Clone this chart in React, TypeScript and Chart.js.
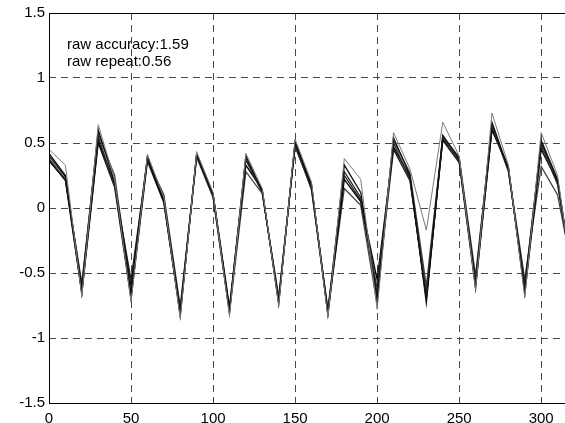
import React, { useEffect, useRef } from "react";
import { Chart, registerables } from "chart.js";

Chart.register(...registerables);

const xValues = [0, 10, 20, 30, 40, 50, 60, 70, 80, 90, 100, 110, 120, 130, 140, 150, 160, 170, 180, 190, 200, 210, 220, 230, 240, 250, 260, 270, 280, 290, 300, 310, 320];

const series1 = [0.45, 0.33, -0.68, 0.64, 0.22, -0.72, 0.41, 0.08, -0.85, 0.43, 0.12, -0.83, 0.42, 0.15, -0.75, 0.53, 0.20, -0.84, 0.38, 0.22, -0.78, 0.58, 0.30, -0.17, 0.66, 0.40, -0.63, 0.73, 0.33, -0.69, 0.58, 0.25, -0.65];
const series2 = [0.42, 0.25, -0.62, 0.60, 0.20, -0.60, 0.39, 0.06, -0.80, 0.41, 0.10, -0.78, 0.40, 0.13, -0.72, 0.50, 0.17, -0.80, 0.33, 0.12, -0.70, 0.54, 0.25, -0.73, 0.56, 0.38, -0.58, 0.66, 0.30, -0.62, 0.52, 0.22, -0.60];
const series3 = [0.38, 0.22, -0.60, 0.55, 0.17, -0.55, 0.37, 0.10, -0.76, 0.40, 0.09, -0.80, 0.37, 0.12, -0.70, 0.48, 0.15, -0.78, 0.28, 0.08, -0.62, 0.50, 0.22, -0.65, 0.54, 0.36, -0.55, 0.63, 0.28, -0.58, 0.48, 0.18, -0.58];
const series4 = [0.37, 0.21, -0.65, 0.52, 0.19, -0.68, 0.38, 0.05, -0.83, 0.42, 0.11, -0.76, 0.33, 0.14, -0.74, 0.51, 0.18, -0.82, 0.22, 0.05, -0.55, 0.47, 0.24, -0.70, 0.53, 0.37, -0.60, 0.60, 0.31, -0.66, 0.45, 0.20, -0.62];
const series5 = [0.36, 0.22, -0.58, 0.57, 0.25, -0.65, 0.40, 0.07, -0.78, 0.39, 0.08, -0.81, 0.28, 0.11, -0.68, 0.47, 0.16, -0.79, 0.15, 0.02, -0.74, 0.52, 0.27, -0.60, 0.55, 0.39, -0.52, 0.64, 0.29, -0.55, 0.32, 0.10, -0.55];
const series6 = [0.40, 0.24, -0.66, 0.50, 0.16, -0.70, 0.36, 0.04, -0.81, 0.40, 0.10, -0.79, 0.38, 0.12, -0.71, 0.49, 0.14, -0.81, 0.25, 0.06, -0.66, 0.45, 0.21, -0.68, 0.52, 0.35, -0.62, 0.61, 0.32, -0.64, 0.50, 0.21, -0.63];

const allSeries = [series1, series2, series3, series4, series5, series6];
const seriesColors = ["#7a7a7a", "#111111", "#2a2a2a", "#000000", "#444444", "#1a1a1a"];

const xTickValues = [0, 50, 100, 150, 200, 250, 300];
const yTickValues = [-1.5, -1, -0.5, 0, 0.5, 1, 1.5];
const noteLines = ["raw accuracy:1.59", "raw repeat:0.56"];

const FONT = "Liberation Sans, Arial, Helvetica, sans-serif";

export default function App() {
  const ref = useRef<HTMLCanvasElement | null>(null);

  useEffect(() => {
    if (!ref.current) return;
    const boxPlugin = {
      id: "boxAndNotes",
      afterDraw(chart: any) {
        const { ctx, chartArea } = chart;
        ctx.save();
        ctx.strokeStyle = "#000";
        ctx.lineWidth = 1;
        ctx.strokeRect(
          Math.round(chartArea.left) + 0.5,
          Math.round(chartArea.top) + 0.5,
          Math.round(chartArea.right - chartArea.left),
          Math.round(chartArea.bottom - chartArea.top)
        );
        ctx.fillStyle = "#000";
        ctx.font = "15px " + FONT;
        ctx.textAlign = "left";
        ctx.textBaseline = "alphabetic";
        ctx.fillText(noteLines[0], 67, 49);
        ctx.fillText(noteLines[1], 67, 66);
        ctx.restore();
      },
    };

    const chart = new Chart(ref.current, {
      type: "line",
      data: {
        datasets: allSeries.map((s, i) => ({
          data: s.map((v, j) => ({ x: xValues[j], y: v })),
          borderColor: seriesColors[i],
          borderWidth: i === 0 ? 1 : 1.3,
          pointRadius: 0,
          tension: 0,
          fill: false,
        })),
      },
      options: {
        animation: false,
        responsive: false,
        layout: { padding: { top: 13, right: 16, left: 0, bottom: 0 } },
        plugins: { legend: { display: false }, tooltip: { enabled: false } },
        scales: {
          x: {
            type: "linear",
            min: 0,
            max: 320,
            afterBuildTicks: (scale: any) => {
              scale.ticks = xTickValues.map((v) => ({ value: v }));
            },
            afterFit: (scale: any) => {
              scale.height = 20;
            },
            border: { display: false, dash: [7, 5] },
            grid: {
              color: "#4a4a4a",
              lineWidth: 1,
              drawTicks: false,
            },
            ticks: {
              padding: 7,
              color: "#000",
              font: { family: FONT, size: 15 },
              maxRotation: 0,
              autoSkip: false,
              callback: (v: any) => String(v),
            },
          },
          y: {
            type: "linear",
            min: -1.5,
            max: 1.5,
            afterBuildTicks: (scale: any) => {
              scale.ticks = yTickValues.map((v) => ({ value: v }));
            },
            afterFit: (scale: any) => {
              scale.width = 49;
            },
            border: { display: false, dash: [7, 5] },
            grid: {
              color: "#4a4a4a",
              lineWidth: 1,
              drawTicks: false,
            },
            ticks: {
              padding: 4,
              color: "#000",
              font: { family: FONT, size: 15 },
              autoSkip: false,
              callback: (v: any) => String(v),
            },
          },
        },
      },
      plugins: [boxPlugin],
    } as any);

    return () => chart.destroy();
  }, []);

  return (
    <div style={{ position: "absolute", left: 0, top: 0, width: 565, height: 423, overflow: "hidden", background: "#fff" }}>
      <canvas ref={ref} width={590} height={423} style={{ display: "block" }} />
    </div>
  );
}
